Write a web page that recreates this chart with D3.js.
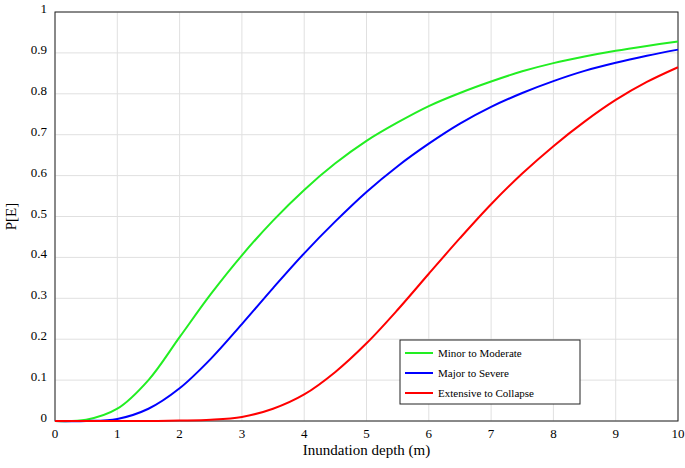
<!DOCTYPE html>
<html><head><meta charset="utf-8">
<script src="https://cdn.jsdelivr.net/npm/d3@7"></script>
<style>body{margin:0;background:#fff}text{font-family:"Liberation Serif","Times New Roman",serif}</style>
</head><body><svg id="c" width="685" height="468"></svg>
<script>
const depth=[0,0.5,1,1.5,2,2.5,3,3.5,4,4.5,5,5.5,6,6.5,7,7.5,8,8.5,9,9.5,10];
const minorModerate=[0,0.003,0.03,0.10,0.205,0.31,0.405,0.49,0.565,0.63,0.685,0.73,0.77,0.802,0.83,0.855,0.875,0.891,0.905,0.917,0.928];
const majorSevere=[0,0,0.005,0.03,0.08,0.152,0.237,0.325,0.41,0.488,0.56,0.623,0.678,0.727,0.768,0.802,0.831,0.856,0.876,0.893,0.908];
const extensiveCollapse=[0,0,0,0,0.001,0.003,0.01,0.03,0.065,0.12,0.19,0.272,0.36,0.447,0.53,0.605,0.672,0.732,0.785,0.829,0.865];
const xTicks=[0,1,2,3,4,5,6,7,8,9,10];
const yTicks=[0,0.1,0.2,0.3,0.4,0.5,0.6,0.7,0.8,0.9,1];
const series=[{name:"Minor to Moderate",v:minorModerate,c:"#22ee22"},{name:"Major to Severe",v:majorSevere,c:"#0000ff"},{name:"Extensive to Collapse",v:extensiveCollapse,c:"#ff0000"}];
const svg=d3.select("#c");
const L=55,R=678,T=12,B=421;
const x=d3.scaleLinear().domain([0,10]).range([L,R]);
const y=d3.scaleLinear().domain([0,1]).range([B,T]);
const g=svg.append("g");
g.selectAll(".gx").data(xTicks).join("line").attr("x1",d=>x(d)).attr("x2",d=>x(d)).attr("y1",T).attr("y2",B).attr("stroke","#e0e0e0");
g.selectAll(".gy").data(yTicks).join("line").attr("y1",d=>y(d)).attr("y2",d=>y(d)).attr("x1",L).attr("x2",R).attr("stroke","#e0e0e0");
g.append("rect").attr("x",L).attr("y",T).attr("width",R-L).attr("height",B-T).attr("fill","none").attr("stroke","#222");
g.selectAll(".tx").data(xTicks).join("text").attr("x",d=>x(d)).attr("y",B+17).attr("text-anchor","middle").attr("font-size",13).text(d=>d);
g.selectAll(".ty").data(yTicks).join("text").attr("x",L-8).attr("y",d=>y(d)+1).attr("text-anchor","end").attr("font-size",13).text(d=>d);
svg.append("text").attr("x",(L+R)/2).attr("y",455).attr("text-anchor","middle").attr("font-size",15).text("Inundation depth (m)");
svg.append("text").attr("transform",`translate(16,${(T+B)/2}) rotate(-90)`).attr("text-anchor","middle").attr("font-size",15).text("P[E]");
const line=d3.line().x((d,i)=>x(depth[i])).y(d=>y(d)).curve(d3.curveCatmullRom.alpha(0.5));
series.forEach(s=>svg.append("path").attr("d",line(s.v)).attr("fill","none").attr("stroke",s.c).attr("stroke-width",2));
const lg=svg.append("g").attr("transform","translate(400,340)");
lg.append("rect").attr("width",180).attr("height",64).attr("fill","#fff").attr("stroke","#222");
series.forEach((s,i)=>{const yy=13+i*20;
lg.append("line").attr("x1",5).attr("x2",33).attr("y1",yy).attr("y2",yy).attr("stroke",s.c).attr("stroke-width",2);
lg.append("text").attr("x",38).attr("y",yy+4).attr("font-size",11).text(s.name);});
</script></body></html>
